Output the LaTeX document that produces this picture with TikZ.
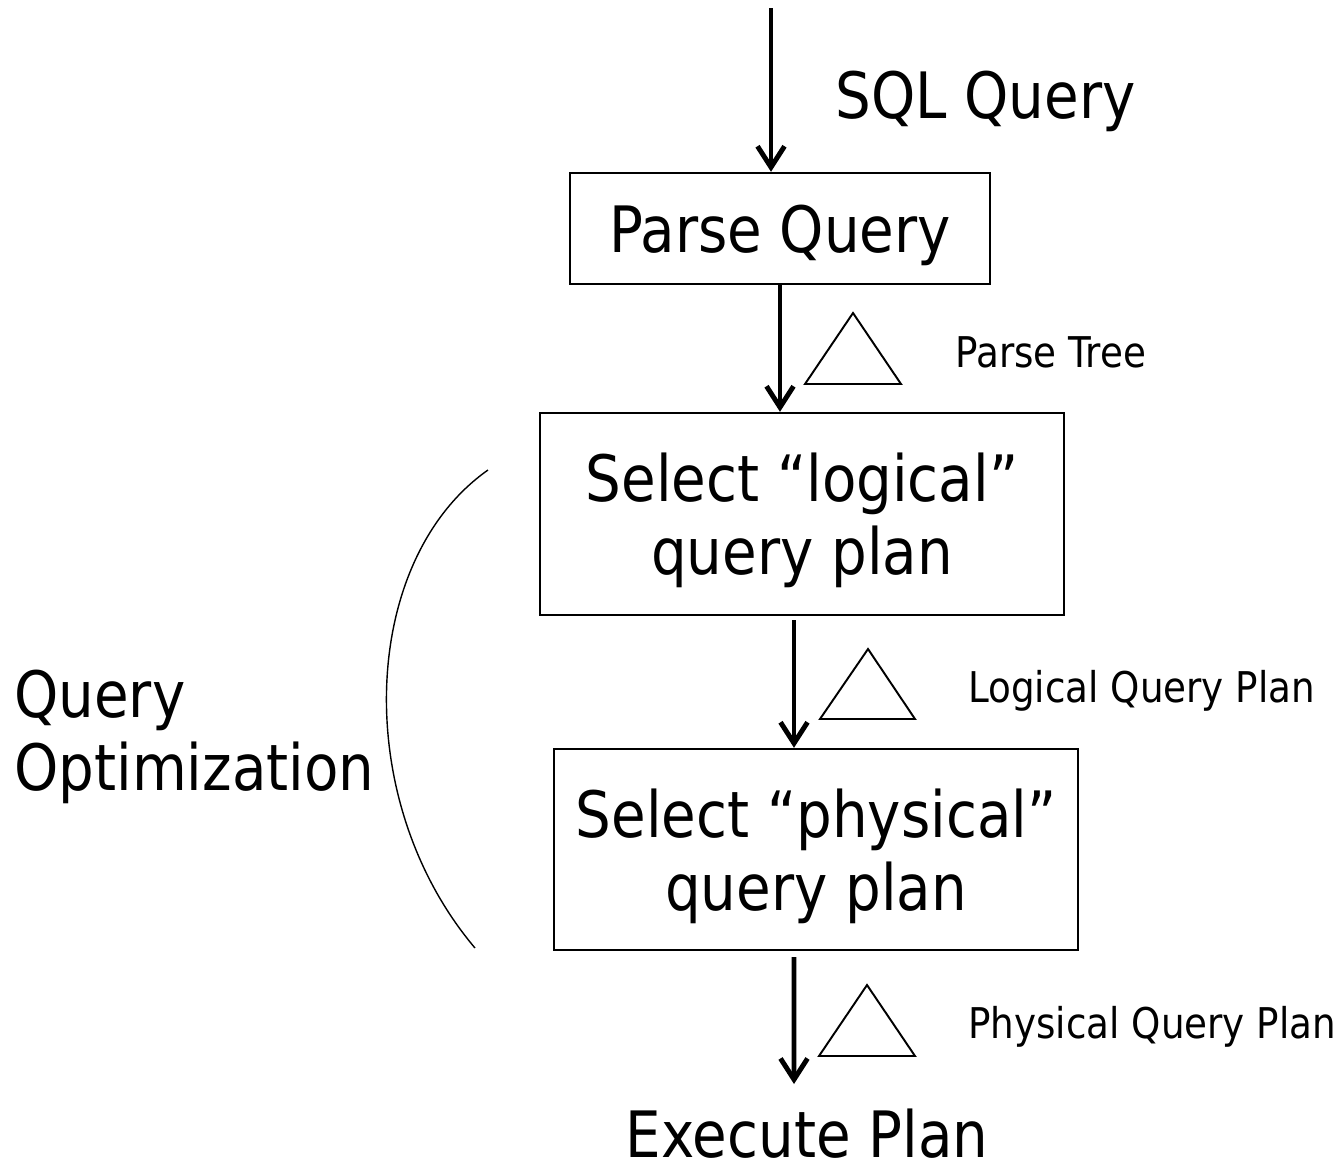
\documentclass[tikz,border=0pt]{standalone}
\usepackage{fontspec}
\setmainfont[FakeStretch=0.88]{DejaVu Sans}
\usepackage{tikz}
\usetikzlibrary{arrows.meta,positioning,calc}
\definecolor{InkBlack}{RGB}{0, 0, 0}

\tikzset{
  stagebox/.style={draw=InkBlack, line width=1.4pt, inner sep=0pt, align=center,
    text depth=0pt, font=\fontsize{36.4pt}{41.5pt}\selectfont},
  bigtext/.style={inner sep=0pt, font=\fontsize{36.4pt}{41.5pt}\selectfont},
  smalltext/.style={inner sep=0pt, font=\fontsize{24.1pt}{28pt}\selectfont},
  flow/.style={-{Straight Barb[length=0.42cm, width=0.54cm]}, line width=2.8pt, InkBlack},
  treemark/.style={line width=1.1pt, InkBlack, line join=miter}
}

\begin{document}
\begin{tikzpicture}[x=0.02cm, y=-0.02cm]
  \useasboundingbox (0,0) rectangle (1341,1164);

  % Stages
  \node[stagebox, minimum width=8.4cm, minimum height=2.22cm] (parse) at (780, 228.5) {Parse Query};
  \node[stagebox, minimum width=10.48cm, minimum height=4.04cm] (logical) at (802, 514) {Select “logical”\\query plan};
  \node[stagebox, minimum width=10.48cm, minimum height=4.02cm] (physical) at (816, 849.5) {Select “physical”\\query plan};
  \node[bigtext, text depth=0pt, anchor=base] (execute) at (807, 1157) {Execute Plan};

  % Input query
  \coordinate (sqlin) at (771, 8);
  \node[bigtext, anchor=base west] (sql) at (835, 118) {SQL Query};
  \draw[flow] (sqlin) -- (sqlin |- parse.north);

  % Arrows between stages
  \draw[flow] (parse.south) -- (parse.south |- logical.north);
  \draw[flow] ([xshift=-0.16cm, yshift=-0.08cm]logical.south) -- ([xshift=-0.16cm]logical.south |- physical.north);
  \coordinate (execin) at (794, 1084);
  \draw[flow] ([xshift=-0.44cm, yshift=-0.12cm]physical.south) -- (execin);

  % Tree marks
  \draw[treemark] (853, 313) -- (901, 384) -- (805, 384) -- cycle;
  \draw[treemark] (868, 649) -- (915, 719) -- (820, 719) -- cycle;
  \draw[treemark] (867, 985) -- (915, 1056) -- (819, 1056) -- cycle;
  \node[smalltext, anchor=base west] (ptree) at (955, 367) {Parse Tree};
  \node[smalltext, anchor=base west] (lplan) at (968, 702) {Logical Query Plan};
  \node[smalltext, anchor=base west] (pplan) at (968, 1038) {Physical Query Plan};

  % Optimization bracket
  \draw[line width=0.8pt, InkBlack] (488, 470) .. controls (360, 560) and (350, 800) .. (475, 948);
  \node[bigtext, anchor=west, align=left] (optim) at (14, 737) {Query\\Optimization};
\end{tikzpicture}
\end{document}
